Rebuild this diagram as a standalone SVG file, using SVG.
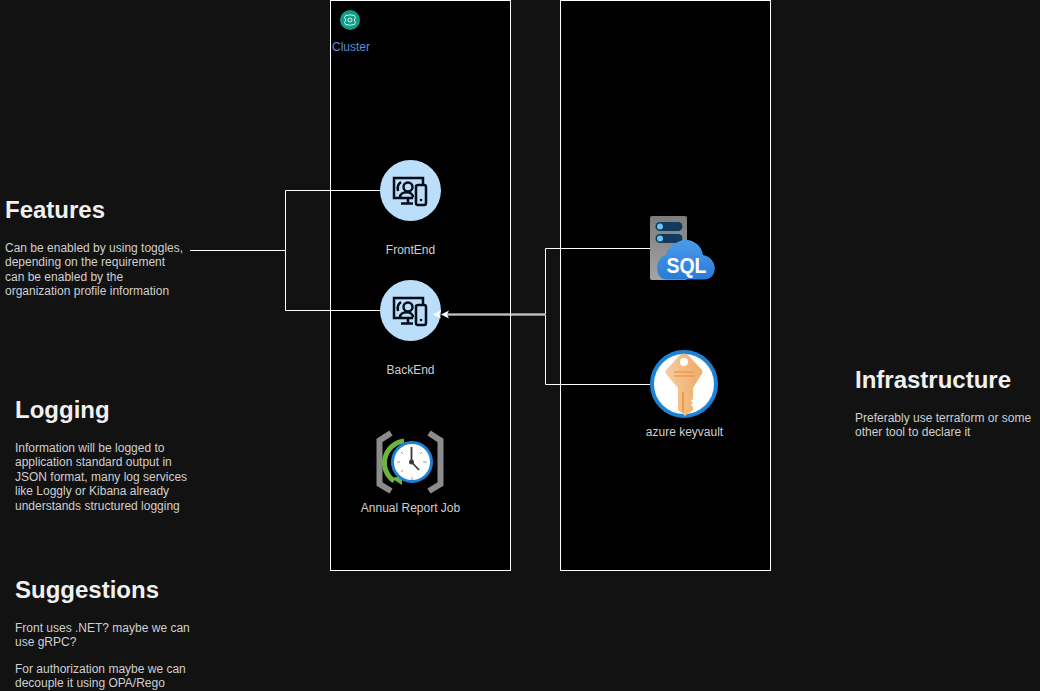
<svg xmlns="http://www.w3.org/2000/svg" width="1040" height="691" viewBox="0 0 1040 691">
<style>
text{font-family:"Liberation Sans",Arial,sans-serif}
.h{font-size:24px;font-weight:bold;fill:#f0f0f0}
.b{font-size:12px;fill:#cfcfcf}
.l{font-size:12px;fill:#cfcfcf;text-anchor:middle}
.c{fill:none;stroke:#fff;stroke-width:1}
.box{fill:#000;stroke:#fff;stroke-width:1}
.dev{fill:none;stroke:#050d18;stroke-width:2.500}
</style>
<defs>
<linearGradient id="cloud" x1="0" y1="0" x2="0" y2="1"><stop offset="0" stop-color="#4a9bea"/><stop offset="1" stop-color="#2a7bd6"/></linearGradient>
<linearGradient id="srv" x1="0" y1="0" x2="0" y2="1"><stop offset="0" stop-color="#7d7d7d"/><stop offset="1" stop-color="#a4a4a4"/></linearGradient>
<linearGradient id="key" x1="0" y1="0" x2="1" y2="0"><stop offset="0" stop-color="#f6cca0"/><stop offset="1" stop-color="#eeab68"/></linearGradient>
<g id="device">
<circle cx="30.500" cy="30.500" r="30.500" fill="#bbdefb"/>
<path d="M33 38H14V18H43V24" class="dev"/>
<path d="M28 38V43M21 43.500H33" class="dev"/>
<circle cx="28" cy="27" r="4.500" class="dev"/>
<path d="M20 37.500C20 30.500 33 30.500 33 37.500" class="dev"/>
<path d="M18 31C17 27 18 24 21 22" class="dev"/>
<rect x="36" y="25" width="10" height="20" rx="2" fill="#bbdefb" stroke="#050d18" stroke-width="2.500"/>
<circle cx="41" cy="40" r="1.300" fill="#050d18"/>
</g>
</defs>
<rect width="1040" height="691" fill="#121212"/>
<rect class="box" x="330.500" y="0.500" width="180" height="570"/>
<rect class="box" x="560.500" y="0.500" width="210" height="570"/>
<g id="frontend">
<use href="#device" x="380" y="160"/>
<text class="l" x="410.500" y="254">FrontEnd</text>
</g>
<g id="backend">
<use href="#device" x="380" y="280"/>
<text class="l" x="410.500" y="374">BackEnd</text>
</g>
<g id="connectors">
<path class="c" d="M380 190.500H285.500V310.500H380"/>
<path class="c" d="M190 250.500H285"/>
<path class="c" d="M650 248.500H545.500V314H447"/>
<path class="c" d="M650 384.500H545.500V315H447"/>
<path d="M441 314.500L449 310.500L447 314.500L449 318.500Z" fill="#fff"/>
<path d="M433 314.500L441 310.500L439 314.500L441 318.500Z" fill="#fff"/>
</g>
<g id="cluster">
<circle cx="350" cy="20" r="10" fill="#0f9d8a"/>
<path d="M350 14.500L352 15.500L354 15L355.500 17.500L354.500 19V21L355.500 22.500L354 25L352 24.500L350 25.500L348 24.500L346 25L344.500 22.500L345.500 21V19L344.500 17.500L346 15L348 15.500Z" fill="none" stroke="#d6f3ec" stroke-width="1"/>
<circle cx="350" cy="20" r="2" fill="none" stroke="#d6f3ec" stroke-width="1"/>
<text x="332" y="51" font-size="12" fill="#5b8fd6">Cluster</text>
</g>
<g id="job">
<path d="M391 433L379.500 440.500V484L391 491" fill="none" stroke="#8c8c8c" stroke-width="6"/>
<path d="M429 433L440.500 440.500V484L429 491" fill="none" stroke="#8c8c8c" stroke-width="6"/>
<path d="M404 441A22 22 0 0 0 394 481" fill="none" stroke="#6fb33f" stroke-width="5"/>
<path d="M391 478L402 476V485Z" fill="#6fb33f"/>
<circle cx="412" cy="462" r="19.500" fill="#fff" stroke="#1b82d6" stroke-width="3"/>
<path d="M411.500 447V462L419 470" fill="none" stroke="#3a3a3a" stroke-width="1.800"/>
<circle cx="411.500" cy="462" r="2.500" fill="#3a3a3a"/>
<path d="M397 462H400M423 462H427M412 477V480M401 452L403 454M422 452L420 454M401 472L403 470" stroke="#999" stroke-width="1"/>
<text class="l" x="410.500" y="512">Annual Report Job</text>
</g>
<g id="sql">
<rect x="650" y="216" width="37" height="64" rx="2" fill="url(#srv)"/>
<rect x="655.500" y="222" width="27" height="9" rx="4.500" fill="#123a5f"/>
<rect x="655.500" y="234" width="27" height="9" rx="4.500" fill="#123a5f"/>
<circle cx="660" cy="226.500" r="3" fill="#6cc4ec"/>
<circle cx="660" cy="238.500" r="3" fill="#6cc4ec"/>
<path d="M667 279.500C654 279.500 654 258 666 255C668 247 677 240 686 240C695 240 702 247 703 255C718 257 719 279.500 704 279.500Z" fill="url(#cloud)"/>
<text x="686.500" y="272.500" font-size="22" font-weight="bold" fill="#fff" text-anchor="middle" textLength="40" lengthAdjust="spacingAndGlyphs">SQL</text>
</g>
<g id="keyvault">
<circle cx="684" cy="384" r="32" fill="#fff" stroke="#1b82d6" stroke-width="4"/>
<path d="M680 355Q684 352 688 355L701 369Q704 372 701 375L693 388V399L691 401L693 403L691 405L693 407V410L685 416L678 410V388L667 375Q664 372 667 369Z" fill="url(#key)"/>
<circle cx="684" cy="362" r="4" fill="#fff"/>
<path d="M674 372H694M674 376H694" stroke="#ee9a4d" stroke-width="1.500"/>
<path d="M683 392V412" stroke="#ee9a4d" stroke-width="2"/>
<text class="l" x="684.500" y="436">azure keyvault</text>
</g>
<g id="features">
<text class="h" x="5" y="218">Features</text>
<text class="b"><tspan x="5" y="252">Can be enabled by using toggles,</tspan><tspan x="5" y="266">depending on the requirement</tspan><tspan x="5" y="281">can be enabled by the</tspan><tspan x="5" y="295">organization profile information</tspan></text>
</g>
<g id="logging">
<text class="h" x="15" y="418">Logging</text>
<text class="b"><tspan x="15" y="452">Information will be logged to</tspan><tspan x="15" y="466">application standard output in</tspan><tspan x="15" y="481">JSON format, many log services</tspan><tspan x="15" y="495">like Loggly or Kibana already</tspan><tspan x="15" y="510">understands structured logging</tspan></text>
</g>
<g id="suggestions">
<text class="h" x="15" y="598">Suggestions</text>
<text class="b"><tspan x="15" y="632">Front uses .NET? maybe we can</tspan><tspan x="15" y="646">use gRPC?</tspan><tspan x="15" y="673">For authorization maybe we can</tspan><tspan x="15" y="687">decouple it using OPA/Rego</tspan></text>
</g>
<g id="infrastructure">
<text class="h" x="855" y="388">Infrastructure</text>
<text class="b"><tspan x="855" y="422">Preferably use terraform or some</tspan><tspan x="855" y="436">other tool to declare it</tspan></text>
</g>
</svg>
